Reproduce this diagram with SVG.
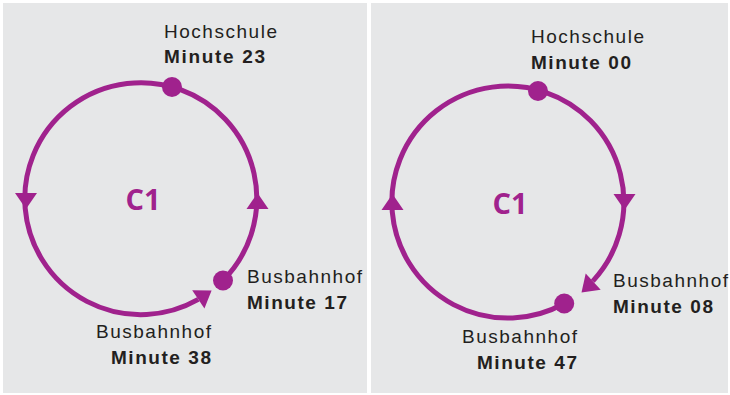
<svg xmlns="http://www.w3.org/2000/svg" xmlns:xlink="http://www.w3.org/1999/xlink" width="730" height="395" viewBox="0 0 730 395">
<style>
.bg{fill:#e6e7e8}
.ring{fill:none;stroke:#a0228d;stroke-width:5}
.dot{fill:#a0228d}
.ah{fill:#a0228d}
.lbl{font-family:"Liberation Sans",Arial,sans-serif;font-size:19px;fill:#231f20}
.b{font-weight:bold}
.c1{font-family:"Open Sans","Liberation Sans",sans-serif;font-size:29px;font-weight:bold;fill:#a0228d}
</style>
<defs>
<polygon id="arrow" points="0,0 -16,-11 -16,11"/>
</defs>
<rect width="730" height="395" fill="#ffffff"/>
<rect class="bg" x="3" y="3" width="364" height="390"/>
<rect class="bg" x="371" y="3" width="357" height="390"/>

<g id="connectors">
  <!-- left panel ring -->
  <path class="ring" d="M223,280.5 A116,116 0 1 0 198.3,299.4"/>
  <use class="ah" xlink:href="#arrow" transform="translate(211.6,290.5) rotate(-33.8)"/>
  <use class="ah" xlink:href="#arrow" transform="translate(26,209) rotate(90)"/>
  <use class="ah" xlink:href="#arrow" transform="translate(257.5,193) rotate(-90)"/>
  <!-- right panel ring -->
  <path class="ring" d="M564.2,303.5 A116,116 0 1 1 592.8,281.1"/>
  <use class="ah" xlink:href="#arrow" transform="translate(581.5,292.5) rotate(137)"/>
  <use class="ah" xlink:href="#arrow" transform="translate(624.5,210) rotate(90)"/>
  <use class="ah" xlink:href="#arrow" transform="translate(392.5,194) rotate(-90)"/>
</g>

<g id="left-c1"><text class="c1" x="143" y="210" text-anchor="middle">C1</text></g>
<g id="left-hochschule">
  <circle class="dot" cx="172" cy="87" r="10"/>
  <text class="lbl" x="164" y="38" textLength="113" lengthAdjust="spacing">Hochschule</text>
  <text class="lbl b" x="164" y="63" textLength="101" lengthAdjust="spacing">Minute 23</text>
</g>
<g id="left-busbahnhof-17">
  <circle class="dot" cx="223" cy="280.5" r="10"/>
  <text class="lbl" x="247" y="283" textLength="115" lengthAdjust="spacing">Busbahnhof</text>
  <text class="lbl b" x="247" y="309" textLength="100" lengthAdjust="spacing">Minute 17</text>
</g>
<g id="left-busbahnhof-38">
  <text class="lbl" x="96" y="338" textLength="115" lengthAdjust="spacing">Busbahnhof</text>
  <text class="lbl b" x="111" y="364" textLength="100" lengthAdjust="spacing">Minute 38</text>
</g>

<g id="right-c1"><text class="c1" x="510" y="214" text-anchor="middle">C1</text></g>
<g id="right-hochschule">
  <circle class="dot" cx="538" cy="91" r="10"/>
  <text class="lbl" x="531" y="43" textLength="113" lengthAdjust="spacing">Hochschule</text>
  <text class="lbl b" x="531" y="69" textLength="100" lengthAdjust="spacing">Minute 00</text>
</g>
<g id="right-busbahnhof-08">
  <text class="lbl" x="613" y="287" textLength="115" lengthAdjust="spacing">Busbahnhof</text>
  <text class="lbl b" x="613" y="313" textLength="100" lengthAdjust="spacing">Minute 08</text>
</g>
<g id="right-busbahnhof-47">
  <circle class="dot" cx="564.2" cy="303.5" r="10"/>
  <text class="lbl" x="462" y="343" textLength="115" lengthAdjust="spacing">Busbahnhof</text>
  <text class="lbl b" x="477" y="369" textLength="100" lengthAdjust="spacing">Minute 47</text>
</g>
</svg>
